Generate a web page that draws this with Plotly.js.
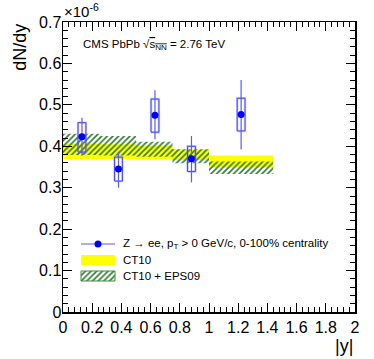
<!DOCTYPE html>
<html><head><meta charset="utf-8">
<script src="https://cdn.plot.ly/plotly-3.0.1.min.js"></script>
<style>html,body{margin:0;padding:0;background:#fff}</style>
</head><body><div id="chart" style="width:374px;height:359px"></div>
<script>
// Data (dN/dy in units of 1e-6)
const binLo = [0.0, 0.25, 0.5, 0.75, 1.0];
const binHi = [0.25, 0.5, 0.75, 1.0, 1.44];
const ct10Lo = [0.369, 0.369, 0.368, 0.367, 0.349];
const ct10Hi = [0.406, 0.405, 0.401, 0.392, 0.378];
const epsLo = [0.379, 0.378, 0.375, 0.359, 0.333];
const epsHi = [0.430, 0.425, 0.411, 0.393, 0.363];
const dataX = [0.13, 0.38, 0.63, 0.88, 1.22];
const dataY = [0.423, 0.345, 0.475, 0.370, 0.477];
const statUp = [0.046, 0.042, 0.060, 0.055, 0.083];
const statDn = [0.046, 0.045, 0.058, 0.057, 0.085];
const systLo = [0.386, 0.316, 0.434, 0.339, 0.437];
const systHi = [0.457, 0.374, 0.514, 0.400, 0.516];
const xTicks = [0, 0.2, 0.4, 0.6, 0.8, 1, 1.2, 1.4, 1.6, 1.8, 2];
const xTickText = ['0','0.2','0.4','0.6','0.8','1','1.2','1.4','1.6','1.8','2'];
const yTicks = [0, 0.1, 0.2, 0.3, 0.4, 0.5, 0.6, 0.7];
const yTickText = ['0','0.1','0.2','0.3','0.4','0.5','0.6','0.7'];
const legendNames = ['Z \u2192 ee, p<sub>T</sub> > 0 GeV/c, 0-100% centrality', 'CT10', 'CT10 + EPS09'];

function rects(x0s, x1s, y0s, y1s) {
  const xs = [], ys = [];
  for (let i = 0; i < x0s.length; i++) {
    xs.push(x0s[i], x1s[i], x1s[i], x0s[i], x0s[i], null);
    ys.push(y0s[i], y0s[i], y1s[i], y1s[i], y0s[i], null);
  }
  return {x: xs, y: ys};
}
const HW = 0.027;
const boxes = rects(dataX.map(v => v - HW), dataX.map(v => v + HW), systLo, systHi);
const ct10 = rects(binLo, binHi, ct10Lo, ct10Hi);
const eps = rects(binLo, binHi, epsLo, epsHi);

const hatch = {shape: '/', fgcolor: '#2f7a2f', bgcolor: 'rgba(0,0,0,0)', size: 4, solidity: 0.4};
const dataBlue = '#0000ff', errBlue = '#5a5aff';

// Legend layout (overlay axes measured in pixels of the plot frame)
const LX0 = 81, LX1 = 115, LTX = 121;
const LROW = [244, 260, 276], LH = 5;

const traces = [
  {x: ct10.x, y: ct10.y, type: 'scatter', mode: 'lines', fill: 'toself',
   fillcolor: '#ffff00', line: {width: 0, color: '#ffff00'}, hoverinfo: 'skip'},
  {x: eps.x, y: eps.y, type: 'scatter', mode: 'lines', fill: 'toself',
   fillcolor: 'rgba(0,0,0,0)', line: {width: 0, color: '#2e7d32'}, fillpattern: hatch, hoverinfo: 'skip'},
  {x: boxes.x, y: boxes.y, type: 'scatter', mode: 'lines',
   line: {width: 2.4, color: 'rgba(120,120,255,0.4)'}, hoverinfo: 'skip'},
  {x: boxes.x, y: boxes.y, type: 'scatter', mode: 'lines',
   line: {width: 1, color: '#4a4ae6'}, hoverinfo: 'skip'},
  {x: dataX, y: dataY, type: 'scatter', mode: 'markers',
   marker: {color: dataBlue, size: 7, symbol: 'circle'},
   error_y: {type: 'data', symmetric: false, array: statUp, arrayminus: statDn,
             color: errBlue, thickness: 1.2, width: 0}},
  // legend swatches
  {x: [LX0, LX1], y: [LROW[0], LROW[0]], xaxis: 'x2', yaxis: 'y2', type: 'scatter', mode: 'lines',
   line: {width: 1.2, color: errBlue}, hoverinfo: 'skip'},
  {x: [(LX0 + LX1) / 2], y: [LROW[0]], xaxis: 'x2', yaxis: 'y2', type: 'scatter', mode: 'markers',
   marker: {color: dataBlue, size: 7}, hoverinfo: 'skip'},
  {x: [LX0, LX1, LX1, LX0, LX0], y: [LROW[1] - LH, LROW[1] - LH, LROW[1] + LH, LROW[1] + LH, LROW[1] - LH],
   xaxis: 'x2', yaxis: 'y2', type: 'scatter', mode: 'lines', fill: 'toself',
   fillcolor: '#ffff00', line: {width: 0, color: '#ffff00'}, hoverinfo: 'skip'},
  {x: [LX0, LX1, LX1, LX0, LX0], y: [LROW[2] - LH, LROW[2] - LH, LROW[2] + LH, LROW[2] + LH, LROW[2] - LH],
   xaxis: 'x2', yaxis: 'y2', type: 'scatter', mode: 'lines', fill: 'toself',
   fillcolor: 'rgba(0,0,0,0)', fillpattern: hatch, line: {width: 1, color: '#3d8f3d'}, hoverinfo: 'skip'}
];

const font = 'Liberation Sans, Arial, Helvetica, sans-serif';
const axisCommon = {ticks: 'inside', ticklen: 9, tickcolor: '#000', showline: true, linecolor: '#000',
  linewidth: 1.5, mirror: 'allticks', showgrid: false, zeroline: false,
  tickfont: {size: 16, family: font}};
const layout = {
  width: 374, height: 359,
  margin: {l: 63, r: 19, t: 22, b: 47},
  paper_bgcolor: '#fff', plot_bgcolor: '#fff',
  font: {family: font, color: '#000'},
  showlegend: false,
  xaxis: Object.assign({}, axisCommon, {range: [0, 2], tickvals: xTicks, ticktext: xTickText,
          minor: {dtick: 0.04, ticks: 'inside', ticklen: 5, tickcolor: '#000', showgrid: false}}),
  yaxis: Object.assign({}, axisCommon, {range: [0, 0.7], tickvals: yTicks, ticktext: yTickText,
          ticklabelstandoff: -3,
          minor: {dtick: 0.02, ticks: 'inside', ticklen: 5, tickcolor: '#000', showgrid: false}}),
  xaxis2: {overlaying: 'x', range: [63, 355], visible: false, fixedrange: true},
  yaxis2: {overlaying: 'y', range: [312, 22], visible: false, fixedrange: true},
  annotations: [
    {text: 'dN/dy', xref: 'paper', yref: 'paper', x: -0.15, y: 1.0, xanchor: 'center', yanchor: 'top',
     textangle: -90, showarrow: false, font: {size: 18, family: font}},
    {text: '|y|', xref: 'paper', yref: 'paper', x: 1.0, y: -0.117, xanchor: 'right', yanchor: 'middle',
     showarrow: false, font: {size: 18, family: font}},
    {text: '\u00d710<sup>-6</sup>', xref: 'paper', yref: 'paper', x: -0.005, y: 1.0, xanchor: 'left', yanchor: 'bottom',
     showarrow: false, font: {size: 15, family: font}},
    {text: "CMS PbPb \u221a<span style='text-decoration:overline'>s<sub>NN</sub></span> = 2.76 TeV",
     xref: 'paper', yref: 'paper', x: 0.062, y: 0.92, xanchor: 'left', yanchor: 'middle',
     showarrow: false, font: {size: 11.5, family: font}},
    {text: legendNames[0], xref: 'x2', yref: 'y2', x: LTX, y: LROW[0], xanchor: 'left', yanchor: 'middle',
     showarrow: false, font: {size: 11.5, family: font}},
    {text: legendNames[1], xref: 'x2', yref: 'y2', x: LTX, y: LROW[1], xanchor: 'left', yanchor: 'middle',
     showarrow: false, font: {size: 11.5, family: font}},
    {text: legendNames[2], xref: 'x2', yref: 'y2', x: LTX, y: LROW[2], xanchor: 'left', yanchor: 'middle',
     showarrow: false, font: {size: 11.5, family: font}}
  ]
};
Plotly.newPlot('chart', traces, layout, {displayModeBar: false, staticPlot: true});
</script></body></html>
